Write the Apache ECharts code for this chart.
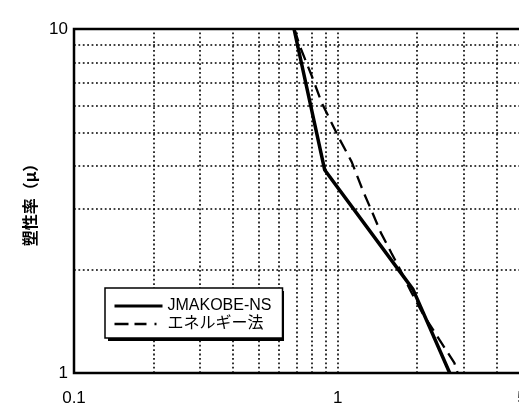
<!DOCTYPE html>
<html>
<head>
<meta charset="utf-8">
<script src="https://cdn.jsdelivr.net/npm/echarts@6/dist/echarts.min.js"></script>
<style>html,body{margin:0;padding:0;background:#fff}#c{width:519px;height:408px}</style>
</head>
<body>
<div id="c"></div>
<script>
// ---- data ----
const xTickLabels = [0.1, 1, 5];
const yTickLabels = [1, 10];
const xGridValues = [0.2, 0.3, 0.4, 0.5, 0.6, 0.7, 0.8, 0.9, 1, 2, 3, 4];
const yGridValues = [2, 3, 4, 5, 6, 7, 8, 9];
const seriesNames = ['JMAKOBE-NS', 'エネルギー法'];
const jmaX = [0.683, 0.893, 1.93, 2.66];
const jmaY = [10, 3.89, 1.75, 1.0];
const energyX = [0.685, 0.72, 0.795, 0.87, 1.02, 1.13, 1.25, 1.34, 1.46, 1.6, 1.69, 1.9, 2.1, 2.43, 2.77, 2.85];
const energyY = [10, 8.88, 7.35, 6.1, 4.76, 4.11, 3.37, 2.98, 2.55, 2.23, 2.06, 1.72, 1.49, 1.25, 1.07, 1.0];

const pairs = (xs, ys) => xs.map((x, i) => [x, ys[i]]);
const fontLatin = '"Liberation Sans", Arial, "Noto Sans CJK JP", sans-serif';

// legend box geometry (layout only)
const LEG = {left: 105, top: 288, pad: [10, 11, 6, 8], itemW: 48, itemH: 10, gap: 2, fontSize: 16, lineH: 16, textGap: 5};
const ctx = document.createElement('canvas').getContext('2d');
ctx.font = LEG.fontSize + 'px ' + fontLatin;
const maxText = Math.max.apply(null, seriesNames.map(s => ctx.measureText(s).width));
const legW = LEG.pad[3] + LEG.itemW + LEG.textGap + maxText + LEG.pad[1];
const legH = LEG.pad[0] + LEG.lineH * 2 + LEG.gap + LEG.pad[2];

const chart = echarts.init(document.getElementById('c'), null, {renderer: 'canvas'});
const gridLine = {color: '#000', width: 1.6, type: [1.8, 2.6]};
chart.setOption({
  animation: false,
  backgroundColor: '#fff',
  grid: {left: 74, top: 29, width: 448, height: 344, outerBoundsMode: 'none', containLabel: false,
         show: true, borderColor: '#000', borderWidth: 2.5, backgroundColor: 'transparent'},
  xAxis: {
    type: 'log', logBase: 10, min: 0.1, max: 5,
    axisLine: {show: false},
    axisTick: {show: false},
    splitLine: {show: false},
    axisLabel: {
      customValues: xTickLabels,
      showMaxLabel: true,
      color: '#000', fontSize: 17, fontFamily: fontLatin, margin: 17,
      formatter: v => String(v)
    }
  },
  yAxis: {
    type: 'log', logBase: 10, min: 1, max: 10,
    name: '塑性率（μ）', nameLocation: 'middle', nameGap: 32, nameRotate: 90,
    nameTextStyle: {color: '#000', fontSize: 16, fontWeight: 'bold', fontFamily: '"Noto Sans CJK JP", sans-serif'},
    axisLine: {show: false},
    axisTick: {show: false},
    splitLine: {show: false},
    axisLabel: {
      customValues: yTickLabels,
      color: '#000', fontSize: 17, fontFamily: fontLatin, margin: 6,
      formatter: v => String(v)
    }
  },
  graphic: [{
    type: 'rect', z: 3, silent: true,
    left: LEG.left + 3, top: LEG.top + 3,
    shape: {width: legW, height: legH},
    style: {fill: '#000'}
  }],
  legend: {
    z: 10,
    orient: 'vertical', left: LEG.left, top: LEG.top,
    itemWidth: LEG.itemW, itemHeight: LEG.itemH, itemGap: LEG.gap,
    padding: LEG.pad,
    backgroundColor: '#fff', borderColor: '#000', borderWidth: 1.5,
    itemStyle: {opacity: 0},
    textStyle: {color: '#000', fontSize: LEG.fontSize, fontFamily: fontLatin, lineHeight: LEG.lineH},
    data: [
      {name: seriesNames[0], lineStyle: {width: 3, type: 'solid'}},
      {name: seriesNames[1], lineStyle: {width: 2.5, type: [14, 6, 12, 8, 2, 10]}}
    ]
  },
  series: [
    {
      name: '_grid', type: 'line', data: pairs(jmaX, jmaY), z: 1,
      symbol: 'none', lineStyle: {opacity: 0}, silent: true,
      markLine: {
        silent: true, symbol: 'none', label: {show: false},
        lineStyle: gridLine, animation: false,
        data: xGridValues.map(v => ({xAxis: v})).concat(yGridValues.map(v => ({yAxis: v})))
      }
    },
    {
      name: seriesNames[0], type: 'line', data: pairs(jmaX, jmaY), z: 5,
      symbol: 'none', lineStyle: {color: '#000', width: 3.5, type: 'solid'}, itemStyle: {color: '#000'}
    },
    {
      name: seriesNames[1], type: 'line', data: pairs(energyX, energyY), z: 4,
      symbol: 'none', lineStyle: {color: '#000', width: 2.3, type: [13, 7]}, itemStyle: {color: '#000'}
    }
  ]
});
</script>
</body>
</html>
